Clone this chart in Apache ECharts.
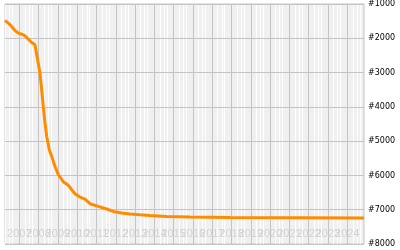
<!DOCTYPE html>
<html>
<head>
<meta charset="utf-8">
<script src="https://cdn.jsdelivr.net/npm/echarts@6/dist/echarts.min.js"></script>
<style>html,body{margin:0;padding:0;background:#fff}#c{width:400px;height:250px}</style>
</head>
<body>
<div id="c"></div>
<script>
// Data (rank over time, lower is better; axis inverted)
const dates = ['2006-04-05','2006-06-07','2006-08-10','2006-10-11','2006-12-13','2007-02-15','2007-04-17','2007-06-20','2007-08-23','2007-10-24','2007-11-25','2007-12-25','2008-01-27','2008-02-28','2008-03-30','2008-05-01','2008-06-03','2008-07-22','2008-09-06','2008-11-07','2009-01-09','2009-04-13','2009-07-16','2009-09-19','2009-11-20','2010-02-23','2010-05-28','2010-08-31','2011-02-05','2011-07-13','2011-11-15','2012-04-22','2012-09-27','2013-04-05','2013-10-11','2014-08-22','2015-11-06','2017-12-01','2021-07-20','2024-11-13'];
const ranks = [1481,1557,1656,1773,1848,1878,1927,2023,2122,2190,2248,2723,3015,3501,3988,4472,4863,5251,5446,5738,5980,6184,6286,6417,6534,6630,6694,6825,6904,6980,7050,7096,7125,7146,7166,7195,7213,7227,7233,7239];
const yTicks = [1000,2000,3000,4000,5000,6000,7000,8000];
const yearLabels = ['2007','2008','2009','2010','2011','2012','2013','2014','2015','2016','2017','2018','2019','2020','2021','2022','2023','2024'];
const minorYears = ['2006','2007','2008','2009','2010','2011','2012','2013','2014','2015','2016','2017','2018','2019','2020','2021','2022','2023','2024'];
const minorDays = ['-04-15','-07-01','-08-25'];

const ts = s => Date.parse(s + 'T00:00:00Z');
const chart = echarts.init(document.getElementById('c'));
const minorLines = [];
minorYears.forEach(y => minorDays.forEach(d => { const t = ts(y + d); if (t > ts(dates[0]) && t < ts(dates[dates.length-1])) minorLines.push({xAxis: t}); }));
const yearTicks = yearLabels.map(y => ts(y + '-01-01'));
const yearLines = yearTicks.map(t => ({xAxis: t}));
const oddTicks = yearTicks.filter((t, i) => i % 2 === 0);
const evenTicks = yearTicks.filter((t, i) => i % 2 === 1);

function xAxisFor(ticks) {
  return {
    type: 'value', min: ts(dates[0]), max: ts(dates[dates.length-1]), z: 1, position: 'bottom',
    axisLine: {show: false}, axisTick: {show: false, customValues: ticks},
    splitLine: {show: false},
    axisLabel: {
      customValues: ticks, showMinLabel: true, showMaxLabel: true,
      inside: true, margin: 5, interval: 0, hideOverlap: false,
      color: '#d2d2d2', fontFamily: 'Liberation Sans Narrow, Liberation Sans, sans-serif', fontSize: 11,
      formatter: function (v) { return String(new Date(v).getUTCFullYear()); }
    }
  };
}

chart.setOption({
  animation: false,
  grid: {left: 5, right: 36, top: 4, bottom: 6, show: true, backgroundColor: '#f0f0f0', borderColor: '#c4c4c4', borderWidth: 1},
  xAxis: [xAxisFor(oddTicks), xAxisFor(evenTicks)],
  yAxis: {
    type: 'value', position: 'right', inverse: true, min: yTicks[0], max: yTicks[yTicks.length-1], interval: 1000, z: 1,
    axisLine: {show: false}, axisTick: {show: false},
    splitLine: {show: true, lineStyle: {color: '#c4c4c4', width: 1, type: 'solid'}},
    axisLabel: {margin: 4, color: '#000', fontFamily: 'DejaVu Sans', fontSize: 8, formatter: v => '#' + v}
  },
  series: [
    {type: 'line', data: [], z: 0.5, silent: true,
     markLine: {z: 0.5, silent: true, symbol: 'none', label: {show: false}, lineStyle: {color: '#ffffff', width: 1, type: 'solid'}, data: minorLines, animation: false}},
    {type: 'line', data: [], z: 0.6, silent: true,
     markLine: {z: 0.6, silent: true, symbol: 'none', label: {show: false}, lineStyle: {color: '#c4c4c4', width: 1, type: 'solid'}, data: yearLines, animation: false}},
    {type: 'line', z: 3, showSymbol: false, symbol: 'none', data: dates.map((d, i) => [ts(d), ranks[i]]),
     lineStyle: {color: '#ff8c00', width: 3}, itemStyle: {color: '#ff8c00'}}
  ]
});
</script>
</body>
</html>
